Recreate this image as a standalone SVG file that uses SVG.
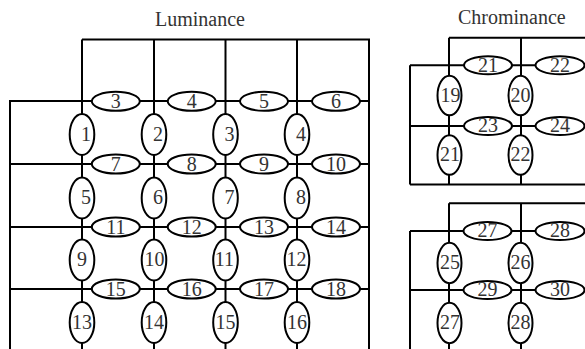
<svg xmlns="http://www.w3.org/2000/svg" width="585" height="349" viewBox="0 0 585 349">
<style>
.ln{stroke:#000;stroke-width:2;fill:none}
.h ellipse,.v ellipse{fill:#fff;stroke:#000;stroke-width:2}
text{font-family:"Liberation Serif","Times New Roman",serif;font-size:20px;fill:#333}
.h text,.v text{text-anchor:middle}
</style>
<rect width="585" height="349" fill="#fff"/>
<text x="155" y="25.5">Luminance</text>
<text x="458" y="24">Chrominance</text>
<g id="connectors" class="ln">
<path d="M82,39.5H369V349M82,39.5V349M154,39.5V349M225.5,39.5V349M297,39.5V349M10,349V101H369M10,164H369M10,227H369M10,289H369"/>
<path d="M449,37.7H585M449,37.7V184.5M521,37.7V184.5M410,65.3H585M410,65.3V184.5M410,126H585M410,184.5H585"/>
<path d="M449,203.3H585M449,203.3V349M521,203.3V349M410,231H585M410,231V349M410,290H585"/>
</g>
<!-- Luminance horizontal nodes -->
<g id="L-h3" class="h"><ellipse cx="115.8" cy="101.3" rx="24" ry="9.5"/><text x="115.8" y="107.8">3</text></g>
<g id="L-h4" class="h"><ellipse cx="191.7" cy="101.3" rx="24" ry="9.5"/><text x="191.7" y="107.8">4</text></g>
<g id="L-h5" class="h"><ellipse cx="264" cy="101.3" rx="24" ry="9.5"/><text x="264" y="107.8">5</text></g>
<g id="L-h6" class="h"><ellipse cx="336" cy="101.3" rx="24" ry="9.5"/><text x="336" y="107.8">6</text></g>
<g id="L-h7" class="h"><ellipse cx="115.8" cy="164" rx="24" ry="9.5"/><text x="115.8" y="170.5">7</text></g>
<g id="L-h8" class="h"><ellipse cx="191.7" cy="164" rx="24" ry="9.5"/><text x="191.7" y="170.5">8</text></g>
<g id="L-h9" class="h"><ellipse cx="264" cy="164" rx="24" ry="9.5"/><text x="264" y="170.5">9</text></g>
<g id="L-h10" class="h"><ellipse cx="336" cy="164" rx="24" ry="9.5"/><text x="336" y="170.5">10</text></g>
<g id="L-h11" class="h"><ellipse cx="115.8" cy="227" rx="24" ry="9.5"/><text x="115.8" y="233.5">11</text></g>
<g id="L-h12" class="h"><ellipse cx="191.7" cy="227" rx="24" ry="9.5"/><text x="191.7" y="233.5">12</text></g>
<g id="L-h13" class="h"><ellipse cx="264" cy="227" rx="24" ry="9.5"/><text x="264" y="233.5">13</text></g>
<g id="L-h14" class="h"><ellipse cx="336" cy="227" rx="24" ry="9.5"/><text x="336" y="233.5">14</text></g>
<g id="L-h15" class="h"><ellipse cx="115.8" cy="289" rx="24" ry="9.5"/><text x="115.8" y="295.5">15</text></g>
<g id="L-h16" class="h"><ellipse cx="191.7" cy="289" rx="24" ry="9.5"/><text x="191.7" y="295.5">16</text></g>
<g id="L-h17" class="h"><ellipse cx="264" cy="289" rx="24" ry="9.5"/><text x="264" y="295.5">17</text></g>
<g id="L-h18" class="h"><ellipse cx="336" cy="289" rx="24" ry="9.5"/><text x="336" y="295.5">18</text></g>
<!-- Luminance vertical nodes -->
<g id="L-v1" class="v"><ellipse cx="82" cy="134.5" rx="12.3" ry="20.5"/><text x="86" y="140.7">1</text></g>
<g id="L-v2" class="v"><ellipse cx="154" cy="134.5" rx="12.3" ry="20.5"/><text x="158" y="140.7">2</text></g>
<g id="L-v3" class="v"><ellipse cx="225.5" cy="134.5" rx="12.3" ry="20.5"/><text x="229.5" y="140.7">3</text></g>
<g id="L-v4" class="v"><ellipse cx="297" cy="134.5" rx="12.3" ry="20.5"/><text x="301" y="140.7">4</text></g>
<g id="L-v5" class="v"><ellipse cx="82" cy="198" rx="12.3" ry="20.5"/><text x="86" y="204.2">5</text></g>
<g id="L-v6" class="v"><ellipse cx="154" cy="198" rx="12.3" ry="20.5"/><text x="158" y="204.2">6</text></g>
<g id="L-v7" class="v"><ellipse cx="225.5" cy="198" rx="12.3" ry="20.5"/><text x="229.5" y="204.2">7</text></g>
<g id="L-v8" class="v"><ellipse cx="297" cy="198" rx="12.3" ry="20.5"/><text x="301" y="204.2">8</text></g>
<g id="L-v9" class="v"><ellipse cx="82" cy="260" rx="12.3" ry="20.5"/><text x="82" y="266.2">9</text></g>
<g id="L-v10" class="v"><ellipse cx="154" cy="260" rx="12.3" ry="20.5"/><text x="154.5" y="266.2">10</text></g>
<g id="L-v11" class="v"><ellipse cx="225.5" cy="260" rx="12.3" ry="20.5"/><text x="224.5" y="266.2">11</text></g>
<g id="L-v12" class="v"><ellipse cx="297" cy="260" rx="12.3" ry="20.5"/><text x="296.5" y="266.2">12</text></g>
<g id="L-v13" class="v"><ellipse cx="82" cy="322.5" rx="12.3" ry="20.5"/><text x="82" y="328.7">13</text></g>
<g id="L-v14" class="v"><ellipse cx="154" cy="322.5" rx="12.3" ry="20.5"/><text x="154" y="328.7">14</text></g>
<g id="L-v15" class="v"><ellipse cx="225.5" cy="322.5" rx="12.3" ry="20.5"/><text x="225.5" y="328.7">15</text></g>
<g id="L-v16" class="v"><ellipse cx="297" cy="322.5" rx="12.3" ry="20.5"/><text x="297" y="328.7">16</text></g>
<!-- Chrominance upper -->
<g id="C-h21" class="h"><ellipse cx="488" cy="65.3" rx="24" ry="9"/><text x="488" y="71.7">21</text></g>
<g id="C-h22" class="h"><ellipse cx="560" cy="65.3" rx="24.5" ry="9"/><text x="560" y="71.7">22</text></g>
<g id="C-h23" class="h"><ellipse cx="488" cy="126" rx="24" ry="9"/><text x="488" y="132.4">23</text></g>
<g id="C-h24" class="h"><ellipse cx="560" cy="126" rx="24.5" ry="9"/><text x="560" y="132.4">24</text></g>
<g id="C-v19" class="v"><ellipse cx="449.5" cy="95.5" rx="12" ry="19.8"/><text x="450.5" y="101.7">19</text></g>
<g id="C-v20" class="v"><ellipse cx="520.5" cy="95.5" rx="12" ry="19.8"/><text x="520.5" y="101.7">20</text></g>
<g id="C-v21" class="v"><ellipse cx="449.5" cy="155" rx="12" ry="19.8"/><text x="450" y="161.2">21</text></g>
<g id="C-v22" class="v"><ellipse cx="520.5" cy="155" rx="12" ry="19.8"/><text x="520.5" y="161.2">22</text></g>
<!-- Chrominance lower -->
<g id="C-h27" class="h"><ellipse cx="487.5" cy="231" rx="24" ry="9"/><text x="487.5" y="237.4">27</text></g>
<g id="C-h28" class="h"><ellipse cx="560" cy="231" rx="24.5" ry="9"/><text x="560" y="237.4">28</text></g>
<g id="C-h29" class="h"><ellipse cx="487.5" cy="290" rx="24" ry="9"/><text x="487.5" y="296.4">29</text></g>
<g id="C-h30" class="h"><ellipse cx="560" cy="290" rx="24.5" ry="9"/><text x="560" y="296.4">30</text></g>
<g id="C-v25" class="v"><ellipse cx="449.5" cy="263" rx="12" ry="20.3"/><text x="450" y="269.2">25</text></g>
<g id="C-v26" class="v"><ellipse cx="520.5" cy="263" rx="12" ry="20.3"/><text x="520.5" y="269.2">26</text></g>
<g id="C-v27" class="v"><ellipse cx="449.5" cy="323" rx="12" ry="20.3"/><text x="450" y="329.2">27</text></g>
<g id="C-v28" class="v"><ellipse cx="520.5" cy="323" rx="12" ry="20.3"/><text x="520.5" y="329.2">28</text></g>
</svg>
